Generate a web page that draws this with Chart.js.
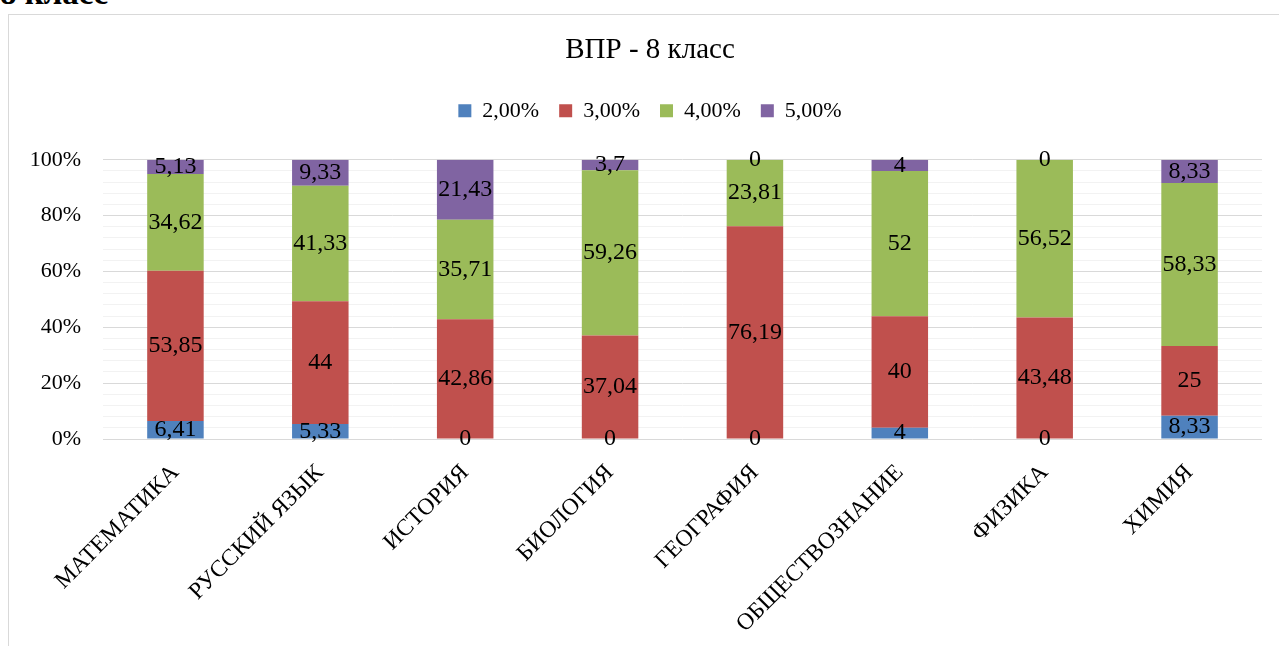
<!DOCTYPE html>
<html>
  <head>
    <meta charset="utf-8" />
    <title>ВПР - 8 класс</title>
    <script src="https://cdn.jsdelivr.net/npm/chart.js"></script>
    <style>
      html, body { margin: 0; padding: 0; background: #fff; overflow: hidden; }
      body { width: 1279px; height: 646px; position: relative; font-family: "Liberation Serif", serif; }
      .heading { position: absolute; left: 0; top: -23px; font-weight: bold; font-size: 33px; line-height: 33px; color: #000; white-space: nowrap; }
      .frame { position: absolute; left: 8px; top: 14px; width: 1282px; height: 660px; border: 1px solid #d9d9d9; }
    </style>
  </head>
  <body>
    <div class="heading">8 класс</div>
    <div class="frame">
      <canvas id="vprChart"></canvas>
    </div>

    <script>
  // subjects and grade shares (values as printed on the bars)
  const subjects = ["МАТЕМАТИКА", "РУССКИЙ ЯЗЫК", "ИСТОРИЯ", "БИОЛОГИЯ", "ГЕОГРАФИЯ", "ОБЩЕСТВОЗНАНИЕ", "ФИЗИКА", "ХИМИЯ"];
  const gradeLabels = ["2,00%", "3,00%", "4,00%", "5,00%"];
  const grade2 = [6.41, 5.33, 0, 0, 0, 4, 0, 8.33];
  const grade3 = [53.85, 44, 42.86, 37.04, 76.19, 40, 43.48, 25];
  const grade4 = [34.62, 41.33, 35.71, 59.26, 23.81, 52, 56.52, 58.33];
  const grade5 = [5.13, 9.33, 21.43, 3.7, 0, 4, 0, 8.33];
  const gradeColors = ["#4f81bd", "#c0504d", "#9bbb59", "#8064a2"];

  const series = [grade2, grade3, grade4, grade5];
  // 100% stacked: each bar scaled to its own total
  const totals = subjects.map((_, i) => series.reduce((s, arr) => s + arr[i], 0));

  const FONT = "'Liberation Serif', 'Times New Roman', serif";

  const valueLabels = {
    id: "valueLabels",
    afterDatasetsDraw(chart) {
      const ctx = chart.ctx;
      ctx.save();
      ctx.font = "24px " + FONT;
      ctx.fillStyle = "#000";
      ctx.textAlign = "center";
      ctx.textBaseline = "middle";
      chart.data.datasets.forEach((ds, di) => {
        const meta = chart.getDatasetMeta(di);
        meta.data.forEach((bar, i) => {
          const raw = ds.raw[i];
          const y = (bar.y + bar.base) / 2;
          ctx.fillText(String(raw).replace(".", ","), bar.x, y);
        });
      });
      ctx.restore();
    }
  };

  // invisible axis used only as spacing
  const spacerAxis = (position, size) => ({
    type: "linear",
    position: position,
    display: true,
    grid: { display: false },
    border: { display: false },
    ticks: { display: false },
    afterFit(scale) {
      if (scale.isHorizontal()) scale.height = size; else scale.width = size;
    }
  });

  new Chart(document.getElementById("vprChart"), {
    type: "bar",
    data: {
      labels: subjects,
      datasets: series.map((arr, k) => ({
        label: gradeLabels[k],
        raw: arr,
        data: arr.map((v, i) => v / totals[i] * 100),
        backgroundColor: gradeColors[k],
        barPercentage: 0.39,
        categoryPercentage: 1
      }))
    },
    options: {
      responsive: true,
      maintainAspectRatio: false,
      animation: false,
      layout: { padding: 0 },
      plugins: {
        title: {
          display: true,
          text: "ВПР - 8 класс",
          color: "#000",
          font: { family: FONT, size: 29, weight: "normal" },
          padding: { top: 18, bottom: 12 }
        },
        legend: {
          position: "top",
          labels: {
            color: "#000",
            font: { family: FONT, size: 22 },
            boxWidth: 13,
            boxHeight: 13,
            padding: 20
          }
        },
        tooltip: { enabled: false }
      },
      scales: {
        x: {
          stacked: true,
          grid: { display: false },
          border: { display: false },
          ticks: {
            color: "#000",
            font: { family: FONT, size: 23.5 },
            minRotation: 45,
            maxRotation: 45,
            autoSkip: false,
            padding: 12
          },
          afterFit(scale) { scale.height = 236; }
        },
        y: {
          stacked: true,
          min: 0,
          max: 100,
          border: { display: false },
          grid: {
            drawTicks: false,
            color: (c) => (c.tick && c.tick.value % 20 === 0 ? "#d9d9d9" : "#f2f2f2"),
            lineWidth: 1
          },
          ticks: {
            stepSize: 4,
            autoSkip: false,
            padding: 22,
            color: "#000",
            font: { family: FONT, size: 22 },
            callback: (v) => (v % 20 === 0 ? v + "%" : "")
          },
          afterFit(scale) { scale.width = 94; }
        },
        // gaps so the plot sits where the reference has it
        gapRight: spacerAxis("right", 29),
        gapTop: spacerAxis("top", 28)
      }
    },
    plugins: [valueLabels]
  });
</script>
  </body>
</html>
